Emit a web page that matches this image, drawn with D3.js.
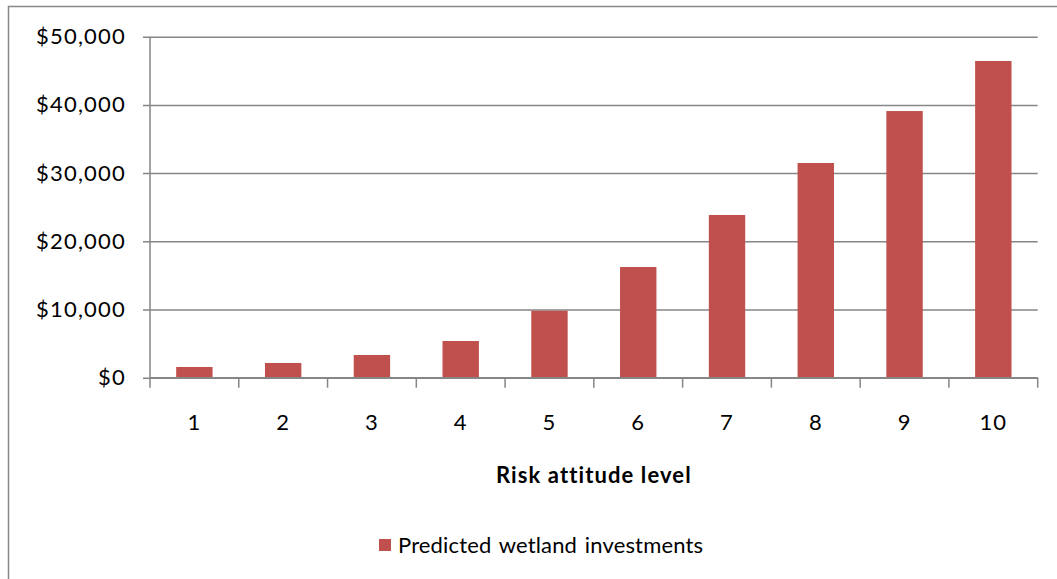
<!DOCTYPE html>
<html>
<head>
<meta charset="utf-8">
<script src="https://cdn.jsdelivr.net/npm/d3@7"></script>
<style>
  html, body { margin: 0; padding: 0; background: #fff; }
  svg { display: block; font-family: Lato, "Open Sans", sans-serif; }
</style>
</head>
<body>
<svg id="chart" width="1057" height="579"></svg>
<script>
// Risk attitude levels and predicted investments (USD)
const levels = ["1", "2", "3", "4", "5", "6", "7", "8", "9", "10"];
const investments = [1570, 2160, 3330, 5380, 9820, 16230, 23860, 31480, 39100, 46440];
const yTicks = [0, 10000, 20000, 30000, 40000, 50000];
const seriesName = "Predicted wetland investments";
const xTitle = "Risk attitude level";

const svg = d3.select("#chart");
const W = 1057, H = 579;
const margin = { left: 150, right: W - 1037.7, top: 36.7, bottom: H - 377.7 };
const gridColor = "#868686";
const barColor = "#c0504d";
const fontSize = 22;

// outer chart frame
svg.append("rect")
  .attr("x", 8.5).attr("y", 6.5)
  .attr("width", W).attr("height", H)
  .attr("fill", "#fff").attr("stroke", "#888").attr("stroke-width", 1.5);

const x = d3.scaleBand().domain(levels)
  .range([margin.left, W - margin.right])
  .paddingInner(0.59).paddingOuter(0.295);
const xEdges = d3.scaleLinear().domain([0, levels.length])
  .range([margin.left, W - margin.right]);
const y = d3.scaleLinear().domain([0, 50000]).range([H - margin.bottom, margin.top]);

const fmt = v => "$" + d3.format(",")(v);

// y axis with horizontal gridlines
const yAxis = svg.append("g")
  .attr("transform", `translate(${margin.left},0)`)
  .call(d3.axisLeft(y).tickValues(yTicks).tickFormat(fmt)
    .tickSize(-(W - margin.right - margin.left)).tickPadding(24));
yAxis.select(".domain").remove();
yAxis.selectAll(".tick line").attr("stroke", gridColor).attr("stroke-width", 1.5)
  .attr("x1", -7);
yAxis.selectAll(".tick text").attr("font-size", fontSize).attr("fill", "#000")
  .attr("letter-spacing", 1.2)
  .attr("font-family", "Lato, sans-serif");
svg.append("line")
  .attr("x1", margin.left).attr("x2", margin.left)
  .attr("y1", margin.top).attr("y2", H - margin.bottom)
  .attr("stroke", gridColor).attr("stroke-width", 1.5);

// bars
svg.append("g").selectAll("rect")
  .data(investments)
  .join("rect")
  .attr("x", (d, i) => x(levels[i]))
  .attr("width", x.bandwidth())
  .attr("y", d => y(d))
  .attr("height", d => y(0) - y(d))
  .attr("fill", barColor);

// x axis baseline with category boundary ticks
const base = y(0);
svg.append("line")
  .attr("x1", margin.left).attr("x2", W - margin.right)
  .attr("y1", base).attr("y2", base)
  .attr("stroke", gridColor).attr("stroke-width", 1.5);
svg.append("g").selectAll("line")
  .data(d3.range(levels.length + 1))
  .join("line")
  .attr("x1", d => xEdges(d)).attr("x2", d => xEdges(d))
  .attr("y1", base).attr("y2", base + 10)
  .attr("stroke", gridColor).attr("stroke-width", 1.5);

svg.append("g").selectAll("text")
  .data(levels)
  .join("text")
  .attr("x", d => x(d) + x.bandwidth() / 2)
  .attr("y", base + 52)
  .attr("text-anchor", "middle")
  .attr("font-size", fontSize)
  .attr("letter-spacing", 1)
  .text(d => d);

// axis title
svg.append("text")
  .attr("x", (margin.left + W - margin.right) / 2)
  .attr("y", 483)
  .attr("text-anchor", "middle")
  .attr("font-size", fontSize)
  .attr("font-weight", "bold")
  .attr("letter-spacing", 1.1)
  .text(xTitle);

// legend
const lg = svg.append("g").attr("transform", "translate(379,539)");
lg.append("rect").attr("width", 12).attr("height", 12).attr("fill", barColor);
lg.append("text").attr("x", 19).attr("y", 14).attr("font-size", fontSize)
  .attr("letter-spacing", 0.15).attr("word-spacing", 2)
  .text(seriesName);
</script>
</body>
</html>
